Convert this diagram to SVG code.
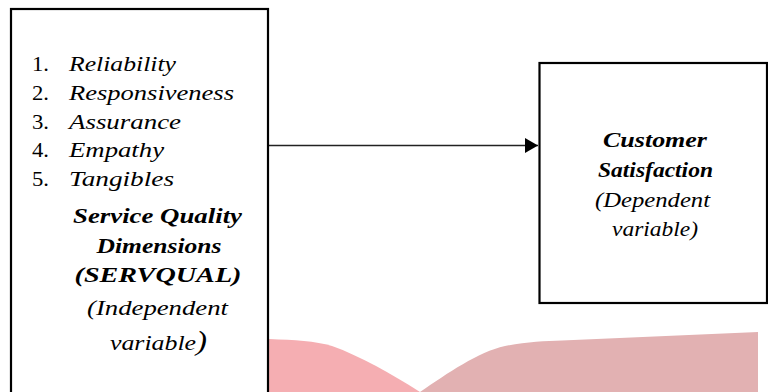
<svg xmlns="http://www.w3.org/2000/svg" width="768" height="392" viewBox="0 0 768 392">
<defs>
<style>
.box{fill:none;stroke:#000;stroke-width:2.2}
.t{font-family:'Liberation Serif',Tinos,'Times New Roman','Nimbus Roman',serif;font-size:22px;fill:#000}
.i{font-style:italic}
.b{font-weight:bold}
.c{text-anchor:middle}
.edge{stroke:#222;stroke-width:1.3;fill:none}
</style>
<marker id="ah" markerWidth="14" markerHeight="16" refX="13" refY="7.5" orient="auto" markerUnits="userSpaceOnUse">
<path d="M0,0 L13,7.5 L0,15 Z" fill="#000"/>
</marker>
</defs>
<rect width="768" height="392" fill="#fff"/>
<g id="background">
<path d="M269,339 C295,340 315,341 332,346 C360,356 392,374 420,392 L269,392 Z" fill="#F5AEB2"/>
<path d="M420,392 C448,373 478,352 505,346 C525,342 545,341 562,340.5 L758,332 L758,392 Z" fill="#E2B1B2"/>
</g>
<g id="connectors">
<line class="edge" x1="269" y1="145.5" x2="538" y2="145.5" marker-end="url(#ah)"/>
</g>
<g id="servqual">
<rect class="box" x="11" y="9" width="257" height="400"/>
<text class="t" x="32" y="71" textLength="17" lengthAdjust="spacingAndGlyphs">1.</text>
<text class="t i" x="69" y="71" textLength="107" lengthAdjust="spacingAndGlyphs">Reliability</text>
<text class="t" x="32" y="100" textLength="17" lengthAdjust="spacingAndGlyphs">2.</text>
<text class="t i" x="69" y="100" textLength="165" lengthAdjust="spacingAndGlyphs">Responsiveness</text>
<text class="t" x="32" y="128.5" textLength="17" lengthAdjust="spacingAndGlyphs">3.</text>
<text class="t i" x="69" y="128.5" textLength="112" lengthAdjust="spacingAndGlyphs">Assurance</text>
<text class="t" x="32" y="157" textLength="17" lengthAdjust="spacingAndGlyphs">4.</text>
<text class="t i" x="69" y="157" textLength="95" lengthAdjust="spacingAndGlyphs">Empathy</text>
<text class="t" x="32" y="185.5" textLength="17" lengthAdjust="spacingAndGlyphs">5.</text>
<text class="t i" x="69" y="185.5" textLength="105" lengthAdjust="spacingAndGlyphs">Tangibles</text>
<text class="t i b c" x="157.5" y="222.5" textLength="169" lengthAdjust="spacingAndGlyphs">Service Quality</text>
<text class="t i b c" x="159" y="253" textLength="125" lengthAdjust="spacingAndGlyphs">Dimensions</text>
<text class="t i b c" x="158" y="282" textLength="167" lengthAdjust="spacingAndGlyphs">(SERVQUAL)</text>
<text class="t i c" x="157.5" y="315" textLength="141" lengthAdjust="spacingAndGlyphs">(Independent</text>
<text class="t i" x="110" y="350" textLength="97" lengthAdjust="spacingAndGlyphs">variable<tspan font-size="28">)</tspan></text>
</g>
<g id="satisfaction">
<rect class="box" x="539.5" y="63" width="227.5" height="240"/>
<text class="t i b c" x="655" y="147" textLength="104" lengthAdjust="spacingAndGlyphs">Customer</text>
<text class="t i b c" x="655.5" y="177" textLength="115" lengthAdjust="spacingAndGlyphs">Satisfaction</text>
<text class="t i c" x="652.5" y="207" textLength="115" lengthAdjust="spacingAndGlyphs">(Dependent</text>
<text class="t i c" x="655" y="236" textLength="86" lengthAdjust="spacingAndGlyphs">variable)</text>
</g>
</svg>
